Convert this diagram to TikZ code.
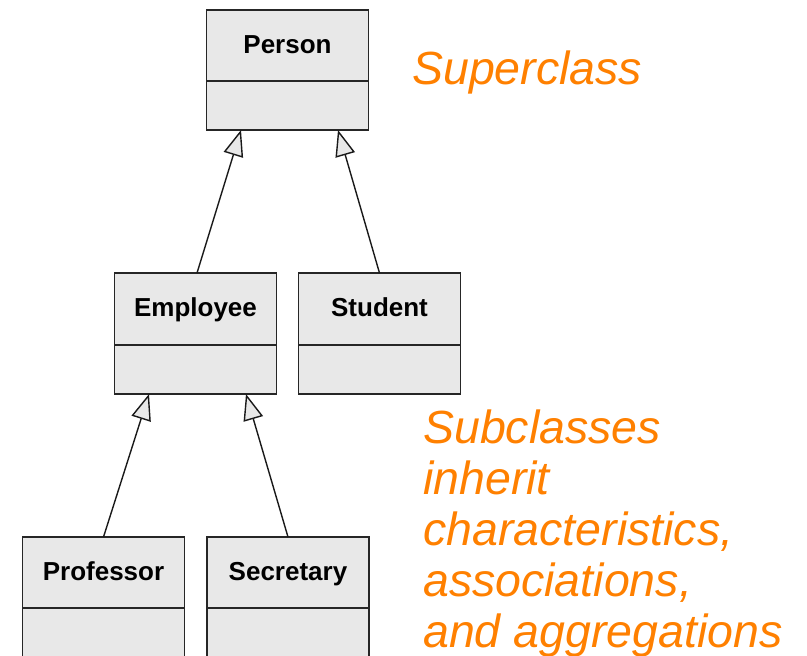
\documentclass[tikz,border=0pt]{standalone}
\usepackage{fontspec}
\setmainfont{Liberation Sans}
\usetikzlibrary{arrows.meta,positioning}
\definecolor{boxfill}{HTML}{E8E8E8}
\definecolor{note}{HTML}{FF8000}
\tikzset{
  hdr/.style={draw=black!85, line width=1.9pt, fill=boxfill, minimum width=162pt, inner sep=0pt, outer sep=0pt, text height=19pt, text depth=4pt, font=\bfseries\fontsize{26pt}{30pt}\selectfont},
  bdy/.style={draw=black!85, line width=1.9pt, fill=boxfill, minimum width=162pt, inner sep=0pt, outer sep=0pt},
  inh/.style={draw=black!90, line width=1.4pt, -{Triangle[length=26pt,width=20pt,fill=boxfill,line width=1.4pt]}},
  notetext/.style={text=note, font=\itshape\fontsize{46.5pt}{51pt}\selectfont, align=left, inner sep=0pt}
}
\begin{document}
\begin{tikzpicture}[x=1pt,y=-1pt]
\useasboundingbox (0,0) rectangle (807,656);
\clip (0,0) rectangle (807,656);
% Person
\node[hdr, minimum height=71pt] (personH) at (287.5,45.5) {Person};
\node[bdy, minimum height=49pt, below=0pt of personH] (personB) {};
% Employee
\node[hdr, minimum height=72pt] (empH) at (195.5,309) {Employee};
\node[bdy, minimum height=49pt, below=0pt of empH] (empB) {};
% Student
\node[hdr, minimum height=72pt] (stuH) at (379.5,309) {Student};
\node[bdy, minimum height=49pt, below=0pt of stuH] (stuB) {};
% Professor
\node[hdr, minimum height=71pt] (profH) at (103.5,572.5) {Professor};
\node[bdy, minimum height=60pt, below=0pt of profH] (profB) {};
% Secretary
\node[hdr, minimum height=71pt] (secH) at (288,572.5) {Secretary};
\node[bdy, minimum height=60pt, below=0pt of secH] (secB) {};
% inheritance
\draw[inh] ([xshift=1.5pt]empH.north) -- ([xshift=-46.5pt]personB.south);
\draw[inh] ([xshift=0pt]stuH.north) -- ([xshift=50.5pt]personB.south);
\draw[inh] (profH.north) -- ([xshift=-46.5pt]empB.south);
\draw[inh] (secH.north) -- ([xshift=50.5pt]empB.south);
% notes
\node[notetext, anchor=base west] (sup) at (412,84) {Superclass};
\node[notetext, anchor=base west] (sub) at (423,647) {Subclasses\\inherit\\characteristics,\\associations,\\and aggregations};
\end{tikzpicture}
\end{document}
